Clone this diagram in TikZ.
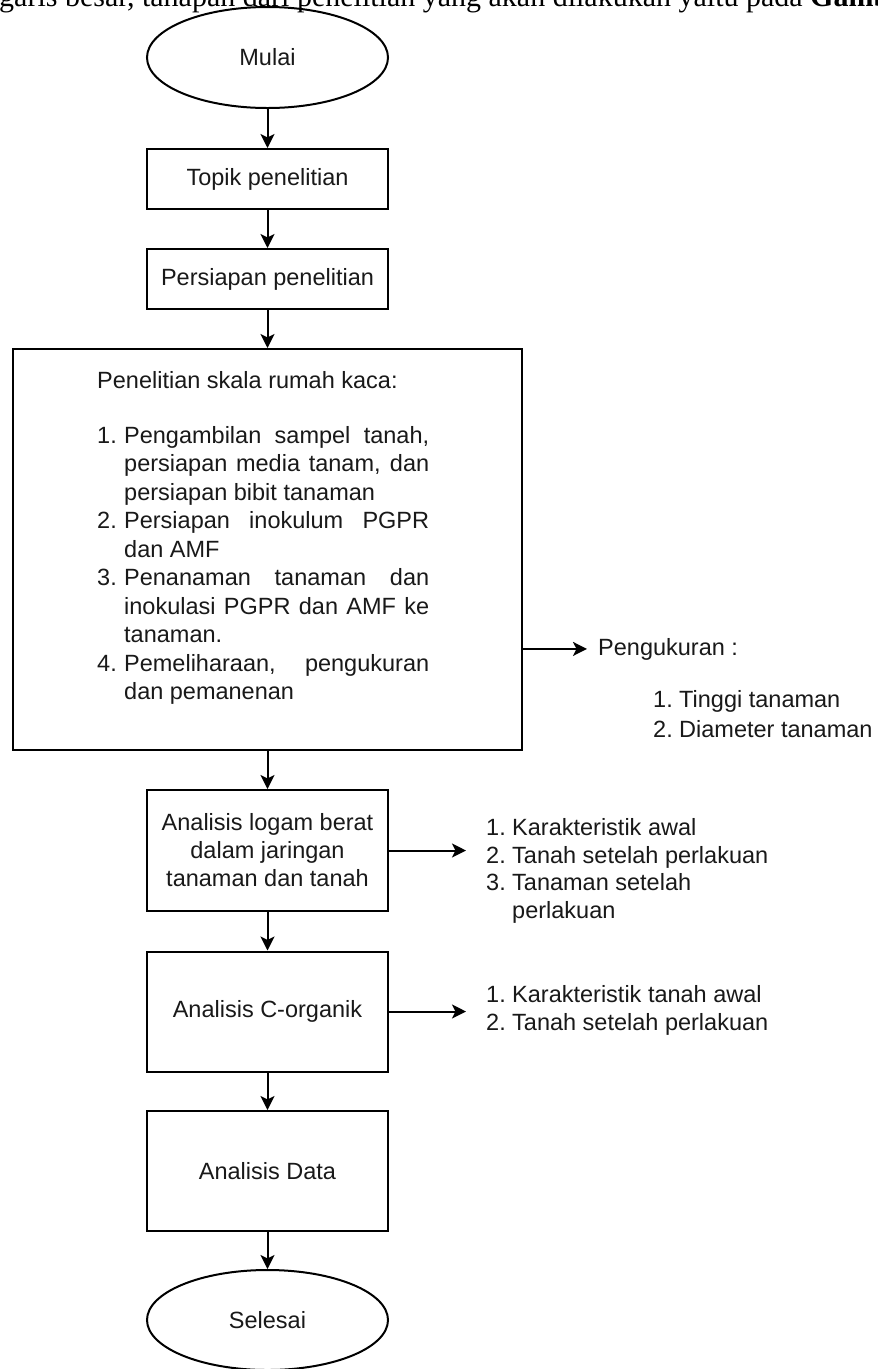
\documentclass[tikz,border=0pt]{standalone}
\usepackage{fontspec}
\setmainfont{Liberation Sans}
\newfontfamily\introserif{Liberation Serif}
\usetikzlibrary{shapes.geometric,arrows.meta}
\begin{document}
\begin{tikzpicture}[x=1pt,y=-1pt,
  every node/.style={font=\fontsize{23.5}{28.5}\selectfont, text={rgb,255:red,25;green,25;blue,25}},
  box/.style={draw=black, line width=2pt, rectangle, minimum width=241pt, inner sep=0pt, align=center},
  term/.style={draw=black, line width=2pt, ellipse, minimum width=241pt, minimum height=101pt, inner sep=0pt},
  arr/.style={draw=black, line width=2pt, -{Stealth[length=14pt,width=14pt,inset=3.5pt]}},
  lbl/.style={inner sep=0pt, align=left},
  lst/.style={inner sep=0pt, inner xsep=20pt, align=left, font=\fontsize{23.5}{27.4}\selectfont}]
\useasboundingbox (0,0) rectangle (878,1369);
\fill[white] (0,0) rectangle (878,1369);
% clipped line of running text at the top
\begin{scope}
  \clip (0,0) rectangle (878,1369);
  \node[anchor=base west, inner sep=0pt, font=\introserif\fontsize{30}{34}\selectfont, text=black] (intro) at (-1,6)
    {garis besar, tahapan dari penelitian yang akan dilakukan yaitu pada \textbf{Gambar}};
\end{scope}

\node[term] (mulai) at (267.5,57.5) {Mulai};
\node[box, minimum height=60pt] (topik) at (267.5,179) {Topik penelitian};
\node[box, minimum height=60pt] (persiapan) at (267.5,279) {Persiapan penelitian};
\node[box, minimum width=509.5pt, minimum height=401pt] (rumah) at (267.25,549.5) {};
\node[inner sep=0pt, anchor=base west, text width=332pt, align=justify] (rumahtxt) at (97,388)
  {\parindent=0pt Penelitian skala rumah kaca:\par\vspace{26.5pt}%
   \hangindent=27pt\hangafter=1\makebox[27pt][l]{1.}Pengambilan sampel tanah,\linebreak persiapan media tanam, dan\linebreak persiapan bibit tanaman\par
   \hangindent=27pt\hangafter=1\makebox[27pt][l]{2.}Persiapan inokulum PGPR\linebreak dan AMF\par
   \hangindent=27pt\hangafter=1\makebox[27pt][l]{3.}Penanaman tanaman dan\linebreak inokulasi PGPR dan AMF ke\linebreak tanaman.\par
   \hangindent=27pt\hangafter=1\makebox[27pt][l]{4.}Pemeliharaan, pengukuran\linebreak dan pemanenan\par};
\node[box, minimum height=121pt, font=\fontsize{23.5}{28}\selectfont] (logam) at (267.5,850.5)
  {Analisis logam berat\\dalam jaringan\\tanaman dan tanah};
\node[box, minimum height=120pt] (corg) at (267.5,1011.5) {Analisis C-organik};
\node[box, minimum height=120pt] (data) at (267.5,1171) {Analisis Data};
\node[term, minimum height=100pt] (selesai) at (267.5,1320) {Selesai};

% side texts (multi-line nodes: base = baseline of last line)
\node[lbl, inner xsep=11pt, anchor=base west] (peng) at (587,655) {Pengukuran :};
\node[lbl, anchor=base west, font=\fontsize{23.5}{30}\selectfont] (penglist) at (653,737)
  {\makebox[26pt][l]{1.}Tinggi tanaman\\\makebox[26pt][l]{2.}Diameter tanaman};
\node[lst, anchor=base west] (loglist) at (466,918)
  {\makebox[26pt][l]{1.}Karakteristik awal\\\makebox[26pt][l]{2.}Tanah setelah perlakuan\\\makebox[26pt][l]{3.}Tanaman setelah\\\hspace*{26pt}perlakuan};
\node[lst, anchor=base west] (corglist) at (466,1030)
  {\makebox[26pt][l]{1.}Karakteristik tanah awal\\\makebox[26pt][l]{2.}Tanah setelah perlakuan};

% connectors
\draw[arr] (mulai.south) -- (topik.north);
\draw[arr] (topik.south) -- (persiapan.north);
\draw[arr] (persiapan.south) -- (persiapan.south |- rumah.north);
\draw[arr] (persiapan.south |- rumah.south) -- (logam.north);
\draw[arr] (logam.south) -- (corg.north);
\draw[arr] (corg.south) -- (data.north);
\draw[arr] (data.south) -- (selesai.north);
\draw[arr] (rumah.east |- peng.west) -- (peng.west);
\draw[arr] (logam.east) -- (logam.east -| loglist.west);
\draw[arr] (corg.east) -- (corg.east -| corglist.west);
\end{tikzpicture}
\end{document}
